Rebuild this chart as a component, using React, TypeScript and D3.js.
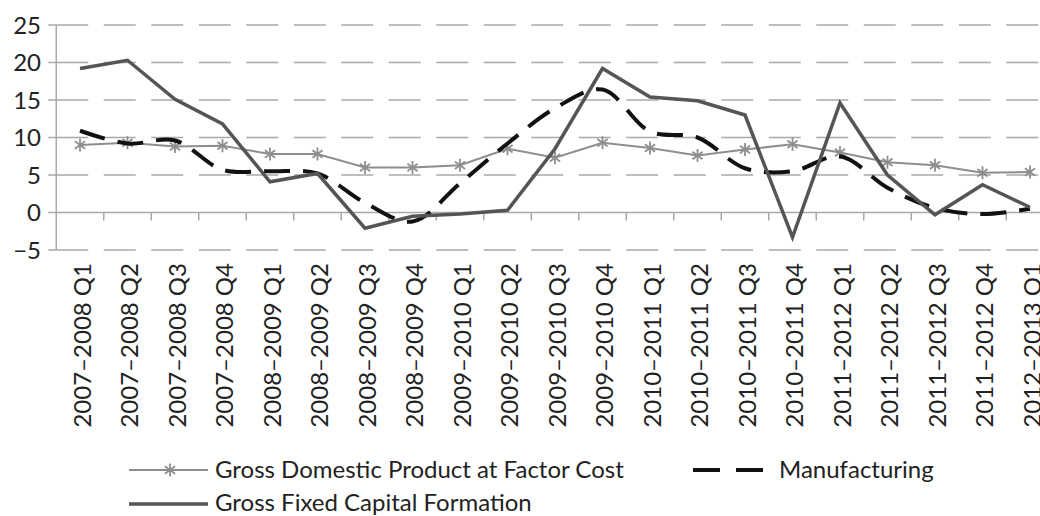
import React from "react";
import * as d3 from "d3";

const categories = [
  "2007–2008 Q1", "2007–2008 Q2", "2007–2008 Q3", "2007–2008 Q4",
  "2008–2009 Q1", "2008–2009 Q2", "2008–2009 Q3", "2008–2009 Q4",
  "2009–2010 Q1", "2009–2010 Q2", "2009–2010 Q3", "2009–2010 Q4",
  "2010–2011 Q1", "2010–2011 Q2", "2010–2011 Q3", "2010–2011 Q4",
  "2011–2012 Q1", "2011–2012 Q2", "2011–2012 Q3", "2011–2012 Q4",
  "2012–2013 Q1",
];

const gdpFactorCost = [
  9.0, 9.3, 8.8, 8.9, 7.8, 7.8, 6.0, 6.0, 6.3, 8.5, 7.3,
  9.3, 8.6, 7.6, 8.4, 9.1, 8.0, 6.7, 6.3, 5.3, 5.4,
];
const manufacturing = [
  10.9, 9.2, 9.6, 5.7, 5.5, 5.2, 1.3, -1.2, 3.9, 9.2, 13.9,
  16.4, 10.8, 10.0, 5.9, 5.5, 7.5, 3.3, 0.6, -0.2, 0.5,
];
const grossFixedCapital = [
  19.2, 20.3, 15.1, 11.8, 4.1, 5.2, -2.1, -0.5, -0.2, 0.3, 8.5,
  19.2, 15.4, 14.9, 13.0, -3.3, 14.6, 5.0, -0.3, 3.7, 0.7,
];

const yTicks = [-5, 0, 5, 10, 15, 20, 25];

const FONT = "Lato, 'Open Sans', sans-serif";
const GRID = "#a9a9a9";
const GDP_COLOR = "#8e8e8e";
const GFCF_COLOR = "#555555";
const MFG_COLOR = "#111111";

function Star({ cx, cy, r, color }: { cx: number; cy: number; r: number; color: string }) {
  const d = r * 0.78;
  return (
    <g stroke={color} strokeWidth={1.8}>
      <line x1={cx} y1={cy - r} x2={cx} y2={cy + r} />
      <line x1={cx - d} y1={cy - d * 0.72} x2={cx + d} y2={cy + d * 0.72} />
      <line x1={cx - d} y1={cy + d * 0.72} x2={cx + d} y2={cy - d * 0.72} />
    </g>
  );
}

export default function App() {
  const width = 1040;
  const height = 516;
  const left = 56.25;
  const step = 47.5;

  const x = d3
    .scaleBand<string>()
    .domain(categories)
    .range([left, left + categories.length * step])
    .paddingInner(0)
    .paddingOuter(0);
  const y = d3.scaleLinear().domain([-5, 25]).range([250, 25]);
  const cx = (i: number) => (x(categories[i]) as number) + x.bandwidth() / 2;

  const straight = d3
    .line<number>()
    .x((_, i) => cx(i))
    .y((v) => y(v));
  const smooth = d3
    .line<number>()
    .x((_, i) => cx(i))
    .y((v) => y(v))
    .curve(d3.curveCatmullRom.alpha(0.5));

  const xEnd = left + categories.length * step;

  return (
    <svg
      width={width}
      height={height}
      style={{ position: "absolute", left: 0, top: 0, background: "#fff" }}
      fontFamily={FONT}
    >
      <rect width={width} height={height} fill="#fff" />

      {/* horizontal gridlines */}
      {yTicks
        .filter((t) => t !== 0)
        .map((t) => (
          <line
            key={`g${t}`}
            x1={left}
            x2={xEnd}
            y1={y(t)}
            y2={y(t)}
            stroke={GRID}
            strokeWidth={1.5}
            strokeDasharray="32,15.5"
          />
        ))}

      {/* y axis */}
      <line x1={left} x2={left} y1={y(25)} y2={y(-5)} stroke={GRID} strokeWidth={1.5} />
      {yTicks.map((t) => (
        <g key={`yt${t}`}>
          <line x1={left - 8} x2={left} y1={y(t)} y2={y(t)} stroke={GRID} strokeWidth={1.5} />
          <text
            x={41}
            y={y(t)}
            dy="0.36em"
            textAnchor="end"
            fontSize={24}
            fill="#222"
          >
            {t < 0 ? `−${Math.abs(t)}` : t}
          </text>
        </g>
      ))}

      {/* x axis at zero */}
      <line x1={left} x2={xEnd} y1={y(0)} y2={y(0)} stroke={GRID} strokeWidth={1.5} />
      {categories.slice(1).map((c) => (
        <line
          key={`xt${c}`}
          x1={x(c) as number}
          x2={x(c) as number}
          y1={y(0)}
          y2={y(0) + 8}
          stroke={GRID}
          strokeWidth={1.5}
        />
      ))}

      {/* category labels */}
      {categories.map((c, i) => (
        <text
          key={`xl${c}`}
          transform={`translate(${cx(i) + 2},263) rotate(-90)`}
          dy="0.36em"
          textAnchor="end"
          fontSize={24}
          fill="#222"
        >
          {c}
        </text>
      ))}

      {/* series */}
      <path d={straight(gdpFactorCost) || ""} fill="none" stroke={GDP_COLOR} strokeWidth={2} />
      {gdpFactorCost.map((v, i) => (
        <Star key={`s${i}`} cx={cx(i)} cy={y(v)} r={6.5} color={GDP_COLOR} />
      ))}
      <path
        d={smooth(manufacturing) || ""}
        fill="none"
        stroke={MFG_COLOR}
        strokeWidth={4}
        strokeDasharray="26,13"
      />
      <path
        d={straight(grossFixedCapital) || ""}
        fill="none"
        stroke={GFCF_COLOR}
        strokeWidth={3.5}
        strokeLinejoin="miter"
      />

      {/* legend */}
      <g fontSize={24} fill="#222">
        <line x1={129} x2={208} y1={470} y2={470} stroke={GDP_COLOR} strokeWidth={2} />
        <Star cx={170} cy={470} r={6.5} color={GDP_COLOR} />
        <text x={215} y={477.5}>
          Gross Domestic Product at Factor Cost
        </text>

        <line
          x1={693}
          x2={763}
          y1={470}
          y2={470}
          stroke={MFG_COLOR}
          strokeWidth={4}
          strokeDasharray="27,16"
        />
        <text x={779} y={477.5}>
          Manufacturing
        </text>

        <line x1={129} x2={208} y1={504} y2={504} stroke={GFCF_COLOR} strokeWidth={3.5} />
        <text x={215} y={510.5}>
          Gross Fixed Capital Formation
        </text>
      </g>
    </svg>
  );
}
